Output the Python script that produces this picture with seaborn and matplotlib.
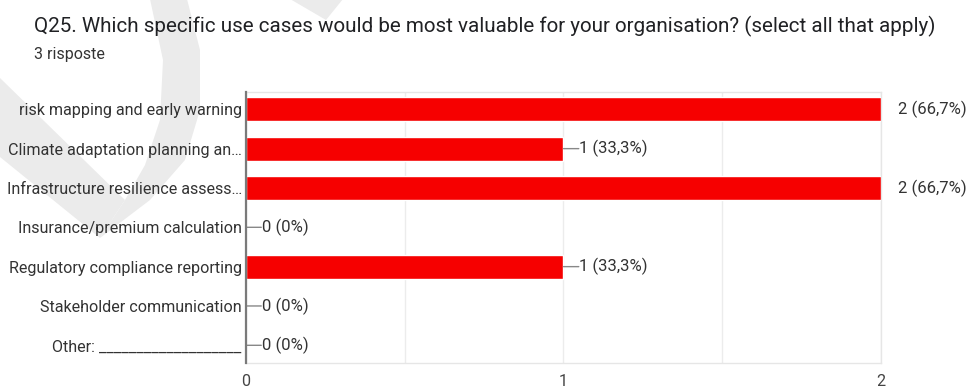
import matplotlib
matplotlib.use("Agg")
import matplotlib.pyplot as plt
import seaborn as sns
import pandas as pd
from matplotlib.patches import Polygon

categories = [
    "risk mapping and early warning",
    "Climate adaptation planning an…",
    "Infrastructure resilience assess…",
    "Insurance/premium calculation",
    "Regulatory compliance reporting",
    "Stakeholder communication",
    "Other: ___________________",
]
counts = [2, 1, 2, 0, 1, 0, 0]
value_labels = ["2 (66,7%)", "1 (33,3%)", "2 (66,7%)", "0 (0%)", "1 (33,3%)", "0 (0%)", "0 (0%)"]
x_ticks = [0, 1, 2]
title = "Q25. Which specific use cases would be most valuable for your organisation? (select all that apply)"
subtitle = "3 risposte"

sns.set_theme(style="white")
plt.rcParams["font.family"] = ["Roboto", "DejaVu Sans"]

W, H = 966, 386
fig = plt.figure(figsize=(W / 100, H / 100), dpi=100)

def fx(px):
    return px / W

def fy(py):
    return 1 - py / H

def fpoly(pts, color):
    return Polygon([(fx(x), fy(y)) for x, y in pts], closed=True, transform=fig.transFigure,
                   facecolor=color, edgecolor="none", zorder=0)

# faint watermark
wm = "#ebebeb"
fig.patches.append(fpoly([(0, 78), (125, 200), (100, 238), (0, 157)], wm))
fig.patches.append(fpoly([(150, -1), (187, -1), (200, 50), (200, 110), (185, 160), (150, 200),
                          (100, 238), (125, 200), (145, 165), (160, 120), (163, 60)], wm))
fig.patches.append(fpoly([(290, -1), (343, -1), (326, 20)], wm))

left, right, top, bottom = 246, 881, 92, 363
ax = fig.add_axes([fx(left), fy(bottom), fx(right - left), (bottom - top) / H])
ax.set_zorder(2)
ax.patch.set_alpha(0)

df = pd.DataFrame({"cat": categories, "n": counts})
sns.barplot(data=df, x="n", y="cat", orient="h", color="#f60000", width=0.61,
            saturation=1, ax=ax, zorder=3)

ax.set_xlim(0, 2)
ax.set_ylim(6.45, -0.44)
ax.set_xticks([0, 0.5, 1, 1.5, 2])
ax.set_xticklabels(["0", "", "1", "", "2"])
ax.grid(axis="x", color="#ececec", lw=1, zorder=0)
ax.set_xlabel("")
ax.set_ylabel("")
for s in ["top", "right", "bottom"]:
    ax.spines[s].set_color("#e6e6e6")
    ax.spines[s].set_linewidth(1)
ax.spines["left"].set_color("#7a7a7a")
ax.spines["left"].set_linewidth(1.6)
ax.spines["left"].set_zorder(5)
ax.tick_params(axis="y", length=0, pad=3, labelsize=11.6, labelcolor="#333333")
ax.tick_params(axis="x", length=0, pad=8, labelsize=11.6, labelcolor="#444444")

for i, (v, lab) in enumerate(zip(counts, value_labels)):
    if v == max(counts):
        ax.annotate(lab, xy=(v, i), xytext=(12, 0), textcoords="offset points",
                    va="center", ha="left", fontsize=12, color="#333333",
                    annotation_clip=False)
    else:
        ax.annotate("", xy=(v, i), xytext=(11, 0), textcoords="offset points",
                    arrowprops=dict(arrowstyle="-", color="#888888", lw=1,
                                    shrinkA=0, shrinkB=0), annotation_clip=False)
        ax.annotate(lab, xy=(v, i), xytext=(11.2, 0), textcoords="offset points",
                    va="center", ha="left", fontsize=12, color="#333333",
                    annotation_clip=False)

fig.text(fx(34), fy(26), title, fontsize=14.9, color="#202124", va="center", ha="left")
fig.text(fx(34), fy(55), subtitle, fontsize=11.5, color="#333333", va="center", ha="left")

fig.savefig("out.png", dpi=100)
